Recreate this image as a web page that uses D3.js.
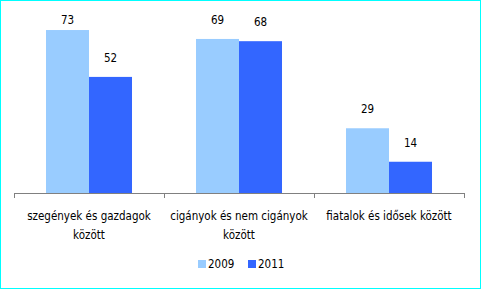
<!DOCTYPE html>
<html>
<head>
<meta charset="utf-8">
<script src="https://cdn.jsdelivr.net/npm/d3@7"></script>
<style>
  html, body { margin: 0; padding: 0; background: #fff; }
  svg { display: block; }
  text { font-family: "DejaVu Sans Condensed", "DejaVu Sans", sans-serif; font-size: 11.5px; fill: #000; }
</style>
</head>
<body>
<svg id="chart"></svg>
<script>
const categories = ['szegények és gazdagok között', 'cigányok és nem cigányok között', 'fiatalok és idősek között'];
const categoryLines = [['szegények és gazdagok', 'között'], ['cigányok és nem cigányok', 'között'], ['fiatalok és idősek között']];
const series = ['2009', '2011'];
const values2009 = [73, 69, 29];
const values2011 = [52, 68, 14];
const colors = ['#99ccff', '#3366ff'];

const W = 481, H = 289;
const svg = d3.select('#chart').attr('width', W).attr('height', H);

// cyan frame
svg.append('rect')
    .attr('x', 0.5).attr('y', 0.5)
    .attr('width', W - 1).attr('height', H - 1)
    .attr('fill', '#fff')
    .attr('stroke', '#00ffff');

const x0 = d3.scaleBand().domain(categories).range([14, 464]);
const x1 = d3.scaleBand().domain(series).range([0, x0.bandwidth()]).paddingOuter(0.744);
const y = d3.scaleLinear().domain([0, 80]).range([193, 14.4]);

const data = categories.map((c, i) => ({
  cat: c,
  vals: [{ s: '2009', v: values2009[i] }, { s: '2011', v: values2011[i] }]
}));

const groups = svg.append('g').selectAll('g')
    .data(data)
  .enter().append('g')
    .attr('transform', d => 'translate(' + x0(d.cat) + ',0)');

groups.selectAll('rect')
    .data(d => d.vals)
  .enter().append('rect')
    .attr('x', d => x1(d.s))
    .attr('y', d => y(d.v))
    .attr('width', x1.bandwidth())
    .attr('height', d => y(0) - y(d.v))
    .attr('fill', (d, i) => colors[i]);

groups.selectAll('text.val')
    .data(d => d.vals)
  .enter().append('text')
    .attr('class', 'val')
    .attr('x', d => x1(d.s) + x1.bandwidth() / 2)
    .attr('y', d => Math.max(y(d.v) - 15, 24))
    .attr('text-anchor', 'middle')
    .text(d => d.v);

// x axis with ticks at category edges
const axis = svg.append('g');
axis.append('line')
    .attr('x1', 14).attr('x2', 464)
    .attr('y1', 193.5).attr('y2', 193.5)
    .attr('stroke', '#808080');
const edges = categories.map(c => x0(c)).concat([x0(categories[categories.length - 1]) + x0.bandwidth()]);
axis.selectAll('line.tick')
    .data(edges)
  .enter().append('line')
    .attr('class', 'tick')
    .attr('x1', d => Math.round(d) + 0.5).attr('x2', d => Math.round(d) + 0.5)
    .attr('y1', 193).attr('y2', 198)
    .attr('stroke', '#808080');

categories.forEach((c, i) => {
  const t = svg.append('text')
      .attr('x', x0(c) + x0.bandwidth() / 2)
      .attr('y', 220)
      .attr('text-anchor', 'middle');
  categoryLines[i].forEach((ln, j) => {
    t.append('tspan')
        .attr('x', x0(c) + x0.bandwidth() / 2)
        .attr('dy', j === 0 ? 0 : 19)
        .text(ln);
  });
});

// legend
const legend = svg.append('g').attr('transform', 'translate(198,260)');
series.forEach((s, i) => {
  const g = legend.append('g').attr('transform', 'translate(' + (i * 50) + ',0)');
  g.append('rect').attr('width', 8).attr('height', 8).attr('fill', colors[i]);
  g.append('text').attr('x', 10).attr('y', 8).text(s);
});
</script>
</body>
</html>
